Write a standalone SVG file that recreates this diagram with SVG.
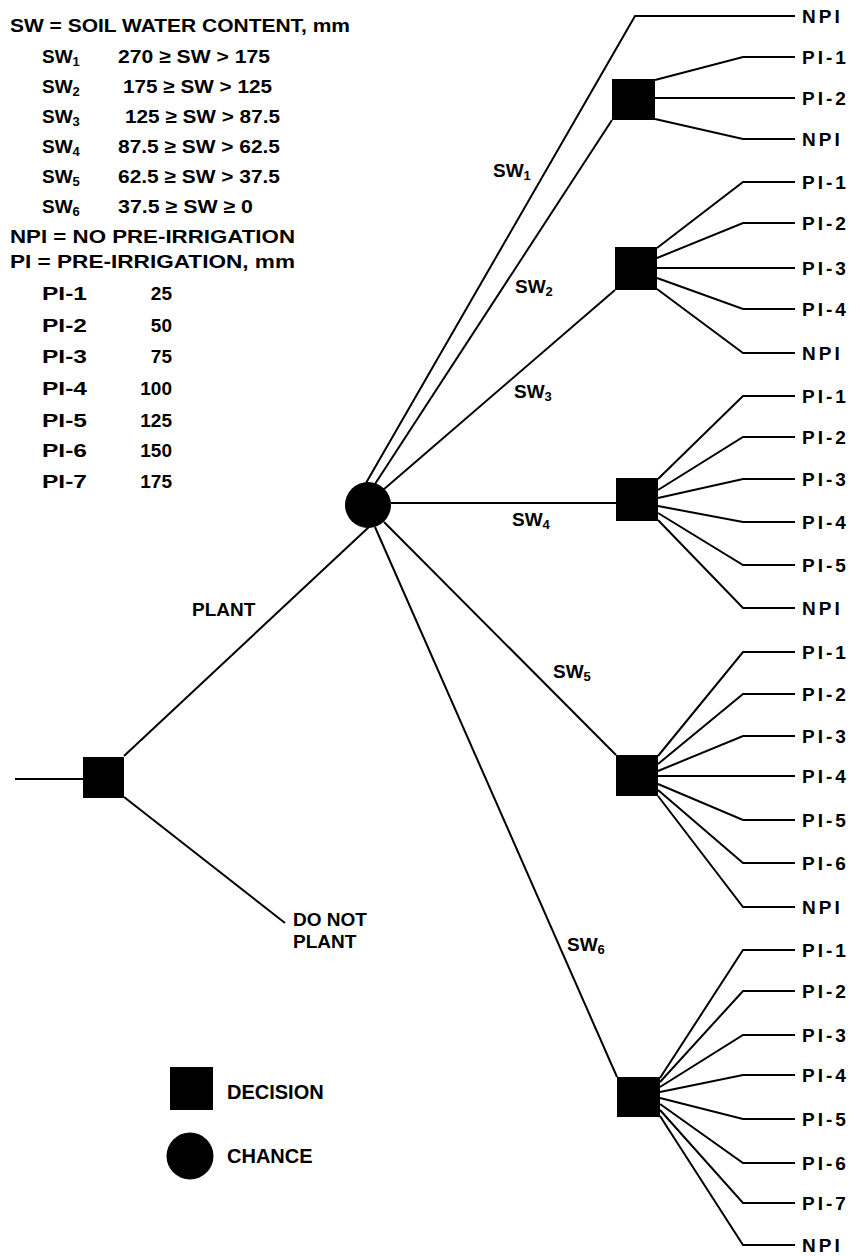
<svg xmlns="http://www.w3.org/2000/svg" width="860" height="1256" viewBox="0 0 860 1256">
<style>
text{font-family:"Liberation Sans",Arial,sans-serif;font-weight:bold;fill:#000}
.lg{font-size:19px}
.lb{font-size:19px}
.lf{font-size:19px;letter-spacing:3px}
.sub{font-size:13px}
.c{fill:none;stroke:#000;stroke-width:2;stroke-linejoin:miter}
.n{fill:#000}
</style>
<rect width="860" height="1256" fill="#fff"/>

<g id="legend-key">
<text class="lg" x="10" y="32" textLength="340" lengthAdjust="spacingAndGlyphs">SW = SOIL WATER CONTENT, mm</text>
<text class="lg" x="42" y="63">SW<tspan class="sub" dy="3">1</tspan></text>
<text class="lg" x="118" y="63" textLength="152" lengthAdjust="spacingAndGlyphs">270 ≥ SW &gt; 175</text>
<text class="lg" x="42" y="93">SW<tspan class="sub" dy="3">2</tspan></text>
<text class="lg" x="123" y="93" textLength="149" lengthAdjust="spacingAndGlyphs">175 ≥ SW &gt; 125</text>
<text class="lg" x="42" y="123">SW<tspan class="sub" dy="3">3</tspan></text>
<text class="lg" x="125" y="123" textLength="155" lengthAdjust="spacingAndGlyphs">125 ≥ SW &gt; 87.5</text>
<text class="lg" x="42" y="153">SW<tspan class="sub" dy="3">4</tspan></text>
<text class="lg" x="118" y="153" textLength="162" lengthAdjust="spacingAndGlyphs">87.5 ≥ SW &gt; 62.5</text>
<text class="lg" x="42" y="183">SW<tspan class="sub" dy="3">5</tspan></text>
<text class="lg" x="118" y="183" textLength="162" lengthAdjust="spacingAndGlyphs">62.5 ≥ SW &gt; 37.5</text>
<text class="lg" x="42" y="213">SW<tspan class="sub" dy="3">6</tspan></text>
<text class="lg" x="118" y="213" textLength="135" lengthAdjust="spacingAndGlyphs">37.5 ≥ SW ≥ 0</text>
<text class="lg" x="10" y="243" textLength="285" lengthAdjust="spacingAndGlyphs">NPI = NO PRE-IRRIGATION</text>
<text class="lg" x="10" y="268" textLength="285" lengthAdjust="spacingAndGlyphs">PI = PRE-IRRIGATION, mm</text>
<text class="lg" x="42" y="300" textLength="45" lengthAdjust="spacingAndGlyphs">PI-1</text>
<text class="lg" x="172" y="300" text-anchor="end">25</text>
<text class="lg" x="42" y="332" textLength="45" lengthAdjust="spacingAndGlyphs">PI-2</text>
<text class="lg" x="172" y="332" text-anchor="end">50</text>
<text class="lg" x="42" y="363" textLength="45" lengthAdjust="spacingAndGlyphs">PI-3</text>
<text class="lg" x="172" y="363" text-anchor="end">75</text>
<text class="lg" x="42" y="395" textLength="45" lengthAdjust="spacingAndGlyphs">PI-4</text>
<text class="lg" x="172" y="395" text-anchor="end">100</text>
<text class="lg" x="42" y="427" textLength="45" lengthAdjust="spacingAndGlyphs">PI-5</text>
<text class="lg" x="172" y="427" text-anchor="end">125</text>
<text class="lg" x="42" y="457" textLength="45" lengthAdjust="spacingAndGlyphs">PI-6</text>
<text class="lg" x="172" y="457" text-anchor="end">150</text>
<text class="lg" x="42" y="488" textLength="45" lengthAdjust="spacingAndGlyphs">PI-7</text>
<text class="lg" x="172" y="488" text-anchor="end">175</text>
</g>

<g id="connectors">
<polyline class="c" points="15,779 83,779"/>
<polyline class="c" points="124,756 370,526"/>
<polyline class="c" points="124,797 285,923"/>
<polyline class="c" points="366,483 635,16 795,16"/>
<polyline class="c" points="375,484 612,120"/>
<polyline class="c" points="383,490 615,290"/>
<polyline class="c" points="391,503 616,503"/>
<polyline class="c" points="384,522 616,755"/>
<polyline class="c" points="375,527 617,1077"/>
<!-- box A -->
<polyline class="c" points="655,80 743,57 795,57"/>
<polyline class="c" points="655,98 795,98"/>
<polyline class="c" points="655,119 743,139 795,139"/>
<!-- box B -->
<polyline class="c" points="657,248 743,182 795,182"/>
<polyline class="c" points="657,258 743,223 795,223"/>
<polyline class="c" points="657,268 795,268"/>
<polyline class="c" points="657,278 743,309 795,309"/>
<polyline class="c" points="657,289 743,353 795,353"/>
<!-- box C -->
<polyline class="c" points="658,479 743,396 795,396"/>
<polyline class="c" points="658,490 743,437 795,437"/>
<polyline class="c" points="658,498 743,479 795,479"/>
<polyline class="c" points="658,506 743,522 795,522"/>
<polyline class="c" points="658,513 743,565 795,565"/>
<polyline class="c" points="658,520 743,608 795,608"/>
<!-- box D -->
<polyline class="c" points="658,756 743,652 795,652"/>
<polyline class="c" points="658,764 743,694 795,694"/>
<polyline class="c" points="658,771 743,736 795,736"/>
<polyline class="c" points="658,776 795,776"/>
<polyline class="c" points="658,784 743,820 795,820"/>
<polyline class="c" points="658,790 743,863 795,863"/>
<polyline class="c" points="658,796 743,907 795,907"/>
<!-- box E -->
<polyline class="c" points="660,1078 743,950 795,950"/>
<polyline class="c" points="660,1082 743,991 795,991"/>
<polyline class="c" points="660,1087 743,1035 795,1035"/>
<polyline class="c" points="660,1092 743,1075 795,1075"/>
<polyline class="c" points="660,1098 743,1119 795,1119"/>
<polyline class="c" points="660,1104 743,1163 795,1163"/>
<polyline class="c" points="660,1110 743,1203 795,1203"/>
<polyline class="c" points="660,1116 743,1245 795,1245"/>
</g>

<g id="branch-labels">
<text class="lb" x="192" y="616">PLANT</text>
<text class="lb" x="293" y="926">DO NOT</text>
<text class="lb" x="293" y="948">PLANT</text>
<text class="lb" x="493" y="177">SW<tspan class="sub" dy="3">1</tspan></text>
<text class="lb" x="515" y="293">SW<tspan class="sub" dy="3">2</tspan></text>
<text class="lb" x="514" y="398">SW<tspan class="sub" dy="3">3</tspan></text>
<text class="lb" x="512" y="526">SW<tspan class="sub" dy="3">4</tspan></text>
<text class="lb" x="553" y="678">SW<tspan class="sub" dy="3">5</tspan></text>
<text class="lb" x="567" y="951">SW<tspan class="sub" dy="3">6</tspan></text>
</g>

<g id="root-decision"><rect class="n" x="83" y="757" width="41" height="41"/></g>
<g id="chance"><circle class="n" cx="368" cy="505" r="23"/></g>
<g id="decision-sw2"><rect class="n" x="612" y="79" width="43" height="41"/></g>
<g id="decision-sw3"><rect class="n" x="615" y="247" width="42" height="43"/></g>
<g id="decision-sw4"><rect class="n" x="616" y="478" width="42" height="43"/></g>
<g id="decision-sw5"><rect class="n" x="616" y="755" width="42" height="41"/></g>
<g id="decision-sw6"><rect class="n" x="617" y="1077" width="43" height="40"/></g>

<g id="outcomes">
<text class="lf" x="802" y="23">NPI</text>
<text class="lf" x="802" y="64">PI-1</text>
<text class="lf" x="802" y="105">PI-2</text>
<text class="lf" x="802" y="146">NPI</text>
<text class="lf" x="802" y="189">PI-1</text>
<text class="lf" x="802" y="230">PI-2</text>
<text class="lf" x="802" y="275">PI-3</text>
<text class="lf" x="802" y="316">PI-4</text>
<text class="lf" x="802" y="360">NPI</text>
<text class="lf" x="802" y="403">PI-1</text>
<text class="lf" x="802" y="444">PI-2</text>
<text class="lf" x="802" y="486">PI-3</text>
<text class="lf" x="802" y="529">PI-4</text>
<text class="lf" x="802" y="572">PI-5</text>
<text class="lf" x="802" y="615">NPI</text>
<text class="lf" x="802" y="659">PI-1</text>
<text class="lf" x="802" y="701">PI-2</text>
<text class="lf" x="802" y="743">PI-3</text>
<text class="lf" x="802" y="783">PI-4</text>
<text class="lf" x="802" y="827">PI-5</text>
<text class="lf" x="802" y="870">PI-6</text>
<text class="lf" x="802" y="914">NPI</text>
<text class="lf" x="802" y="957">PI-1</text>
<text class="lf" x="802" y="998">PI-2</text>
<text class="lf" x="802" y="1042">PI-3</text>
<text class="lf" x="802" y="1082">PI-4</text>
<text class="lf" x="802" y="1126">PI-5</text>
<text class="lf" x="802" y="1170">PI-6</text>
<text class="lf" x="802" y="1210">PI-7</text>
<text class="lf" x="802" y="1252">NPI</text>
</g>

<g id="legend-decision">
<rect class="n" x="170" y="1067" width="43" height="43"/>
<text class="lb" x="227" y="1099" style="font-size:20px">DECISION</text>
</g>
<g id="legend-chance">
<circle class="n" cx="190" cy="1156" r="23.5"/>
<text class="lb" x="227" y="1163" style="font-size:20px">CHANCE</text>
</g>
</svg>
